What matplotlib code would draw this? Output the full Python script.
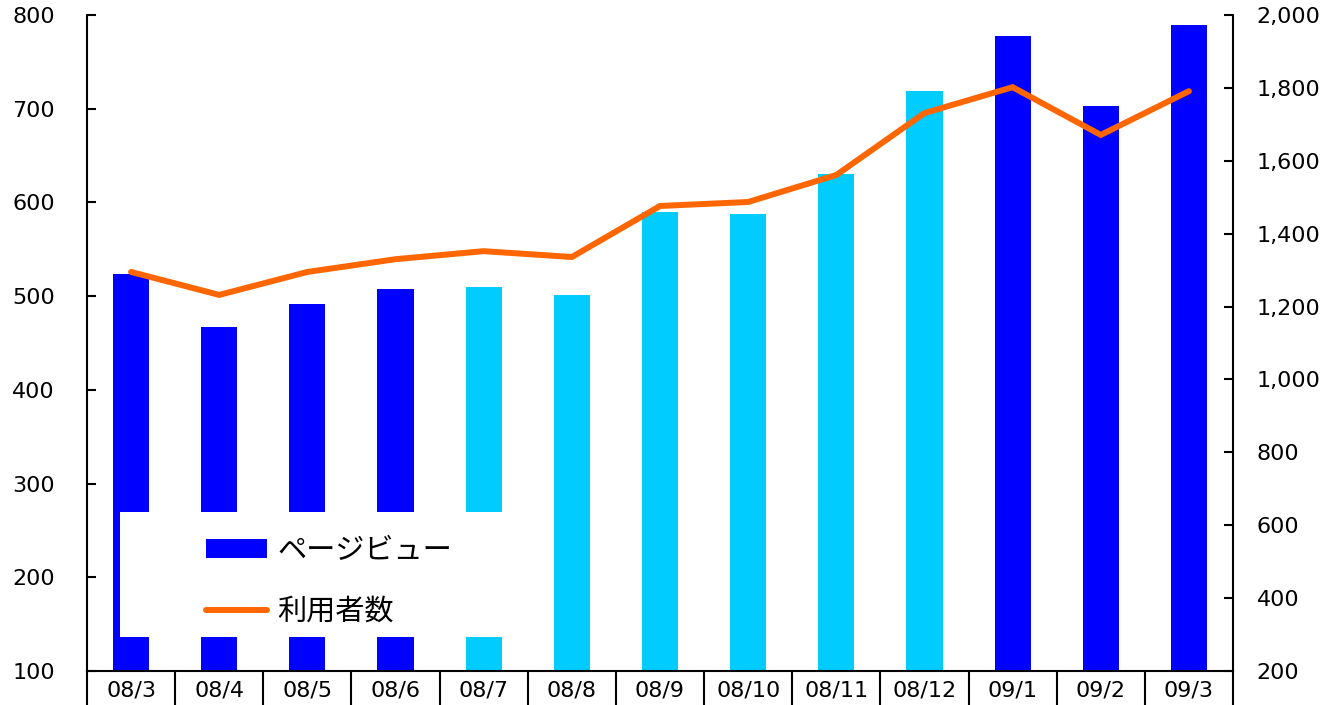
import matplotlib.pyplot as plt
import numpy as np
from matplotlib.patches import Rectangle, Patch
from matplotlib.lines import Line2D

plt.rcParams['font.family'] = ['DejaVu Sans', 'Noto Sans CJK JP']

# monthly data
months = ['08/3', '08/4', '08/5', '08/6', '08/7', '08/8', '08/9',
          '08/10', '08/11', '08/12', '09/1', '09/2', '09/3']
page_views = [524, 467, 492, 508, 510, 501, 590, 588, 630, 719, 778, 703, 789]
users = [1295, 1232, 1295, 1330, 1352, 1336, 1476, 1487, 1561, 1731, 1802, 1671, 1791]
bar_colors = ['#0000FF'] * 4 + ['#00CCFF'] * 6 + ['#0000FF'] * 3

fig = plt.figure(figsize=(13.34, 7.05), dpi=100)
ax = fig.add_axes([0.0652, 0.0482, 0.8591, 0.9305])
ax2 = ax.twinx()

x = np.arange(len(months)) + 0.5
ax.bar(x, page_views, width=0.41, color=bar_colors, zorder=2)
ax2.plot(x, users, color='#FF6600', lw=4.3, solid_capstyle='round',
         solid_joinstyle='miter', zorder=3)

ax.set_xlim(0, len(months))
ax.set_ylim(100, 800)
ax2.set_ylim(200, 2000)
ax.set_yticks(range(100, 801, 100))
ax2.set_yticks(range(200, 2001, 200))
ax2.set_yticklabels([f'{v:,}' for v in range(200, 2001, 200)])

for a in (ax, ax2):
    a.spines['top'].set_visible(False)
    for s in a.spines.values():
        s.set_linewidth(1.5)
ax.spines['right'].set_visible(False)
ax2.spines['left'].set_visible(False)
ax2.spines['bottom'].set_visible(False)

ax.tick_params(axis='y', direction='in', length=6.5, width=1.5, labelsize=16, pad=23)
ax2.tick_params(axis='y', direction='in', length=6.5, width=1.5, labelsize=16, pad=17)

# category labels in boxes under the axis
ax.set_xticks(x)
ax.set_xticklabels(months)
ax.set_xticks(np.arange(len(months) + 1), minor=True)
ax.tick_params(axis='x', which='major', length=0, labelsize=16, pad=7)
ax.tick_params(axis='x', which='minor', direction='out', length=26, width=1.5)

# white legend box over the bars
ax2.add_patch(Rectangle((0.0288, 0.0518), 0.353, 0.19, transform=ax2.transAxes,
                        facecolor='white', edgecolor='none', zorder=4))
handles = [Patch(facecolor='#0000FF'),
           Line2D([], [], color='#FF6600', lw=4.3, solid_capstyle='round')]
leg = ax2.legend(handles, ['ページビュー', '利用者数'], loc='center left',
                 bbox_to_anchor=(0.104, 0.137), frameon=False, fontsize=21,
                 borderpad=0, borderaxespad=0, handlelength=2.1, handleheight=0.6,
                 handletextpad=0.34, labelspacing=1.05)
leg.set_zorder(5)
for t in leg.get_texts():
    t.set_family(['Noto Sans CJK JP'])

fig.savefig('out.png', dpi=100)
